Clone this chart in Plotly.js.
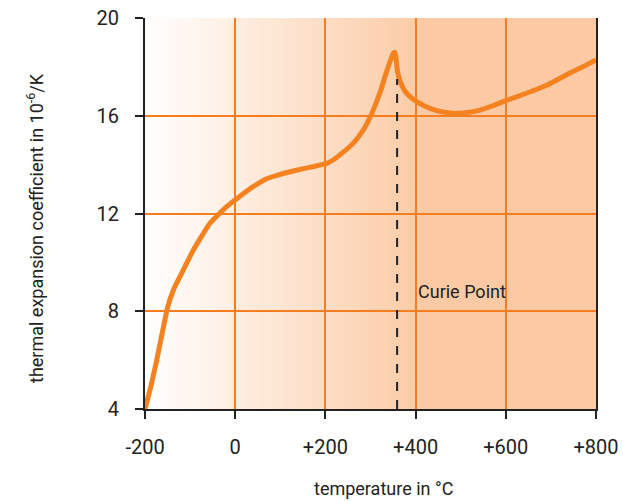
<!DOCTYPE html>
<html><head><meta charset="utf-8">
<script src="https://cdn.plot.ly/plotly-3.0.1.min.js"></script>
<style>html,body{margin:0;padding:0;background:#fff}#chart{width:623px;height:501px}</style>
</head><body><div id="chart"></div>
<script>
// temperature (°C) and thermal expansion coefficient (10^-6/K)
const temperature = [-200, -186, -174, -159, -150, -137, -115, -93, -56, -19, 10, 40, 70, 100, 136, 173, 203, 218, 232, 254, 272, 288, 302, 314, 324, 332, 342, 350, 354, 357, 360, 365, 375, 388, 405, 425, 445, 461, 480, 498, 518, 536, 570, 603, 647, 692, 742, 770, 800];
const coefficient = [4.0, 5.0, 6.0, 7.37, 8.15, 8.87, 9.69, 10.5, 11.6, 12.28, 12.7, 13.1, 13.42, 13.6, 13.77, 13.92, 14.05, 14.2, 14.4, 14.73, 15.1, 15.54, 16.05, 16.6, 17.1, 17.6, 18.15, 18.55, 18.6, 18.3, 17.8, 17.45, 17.05, 16.77, 16.55, 16.36, 16.22, 16.15, 16.1, 16.1, 16.14, 16.2, 16.4, 16.64, 16.93, 17.26, 17.75, 18.0, 18.28];
const curieTemp = 359;
const curieTop = 17.5;
const xTicks = [-200, 0, 200, 400, 600, 800];
const xTickLabels = ['-200', '0', '+200', '+400', '+600', '+800'];
const yTicks = [4, 8, 12, 16, 20];

const orange = '#f47d20';
const font = 'Roboto, "Noto Sans", sans-serif';

// background gradient (white -> peach) as thin strips
const shapes = [];
const n = 60, g0 = -200, g1 = 420;
const c1 = [251, 202, 164];
for (let i = 0; i < n; i++) {
  const t = (i + 0.5) / n;
  const col = `rgb(${Math.round(255 + (c1[0]-255)*t)},${Math.round(255 + (c1[1]-255)*t)},${Math.round(255 + (c1[2]-255)*t)})`;
  shapes.push({type:'rect', layer:'below', xref:'x', yref:'paper', x0: g0 + (g1-g0)*i/n, x1: g0 + (g1-g0)*(i+1)/n + 1, y0:0, y1:1, fillcolor:col, line:{width:0}});
}
shapes.push({type:'rect', layer:'below', xref:'x', yref:'paper', x0:g1, x1:800, y0:0, y1:1, fillcolor:`rgb(${c1.join(',')})`, line:{width:0}});
// Curie point dashed marker
shapes.push({type:'line', layer:'above', xref:'x', yref:'y', x0:curieTemp, x1:curieTemp, y0:4, y1:curieTop, line:{color:'#222', width:2, dash:'dash'}});

const trace = {
  x: temperature, y: coefficient, type:'scatter', mode:'lines',
  line:{color:'#f58220', width:5, shape:'spline', smoothing:0.4},
  hoverinfo:'skip'
};

const layout = {
  width:623, height:501,
  margin:{l:145, r:27, t:18, b:92},
  paper_bgcolor:'#fff', plot_bgcolor:'rgba(0,0,0,0)',
  showlegend:false,
  font:{family:font, size:20, color:'#222'},
  xaxis:{range:[-200,800], tickvals:xTicks, ticktext:xTickLabels, showgrid:true, gridcolor:orange, gridwidth:2,
    zeroline:false, showline:true, linecolor:'#222', linewidth:2, ticks:'outside', ticklen:8, tickwidth:2, tickcolor:'#222',
    ticklabelstandoff:11, ticklabeloverflow:'allow', tickfont:{family:font, size:20, color:'#222'}, fixedrange:true},
  yaxis:{range:[4,20], tickvals:yTicks, showgrid:true, gridcolor:orange, gridwidth:2,
    zeroline:false, showline:true, mirror:true, linecolor:'#222', linewidth:2, ticks:'outside', ticklen:8, tickwidth:2, tickcolor:'#222',
    ticklabelstandoff:12, ticklabeloverflow:'allow', tickfont:{family:font, size:20, color:'#222'}, fixedrange:true},
  shapes: shapes,
  annotations:[
    {text:'Curie Point', xref:'x', yref:'y', x:400, y:8.8, xanchor:'left', yanchor:'middle', showarrow:false, font:{family:font, size:18, color:'#222'}},
    {text:'temperature in °C', xref:'paper', yref:'paper', x:(383-145)/451, y:(501-488-92)/391, xanchor:'center', yanchor:'middle', showarrow:false, font:{family:font, size:18, color:'#222'}},
    {text:'thermal expansion coefficient in 10<sup>-6</sup>/K', xref:'paper', yref:'paper', x:(35-145)/451, y:(409-228)/391, xanchor:'center', yanchor:'middle', textangle:-90, showarrow:false, font:{family:font, size:18, color:'#222'}}
  ]
};

Plotly.newPlot('chart', [trace], layout, {displayModeBar:false, staticPlot:true});
</script></body></html>
